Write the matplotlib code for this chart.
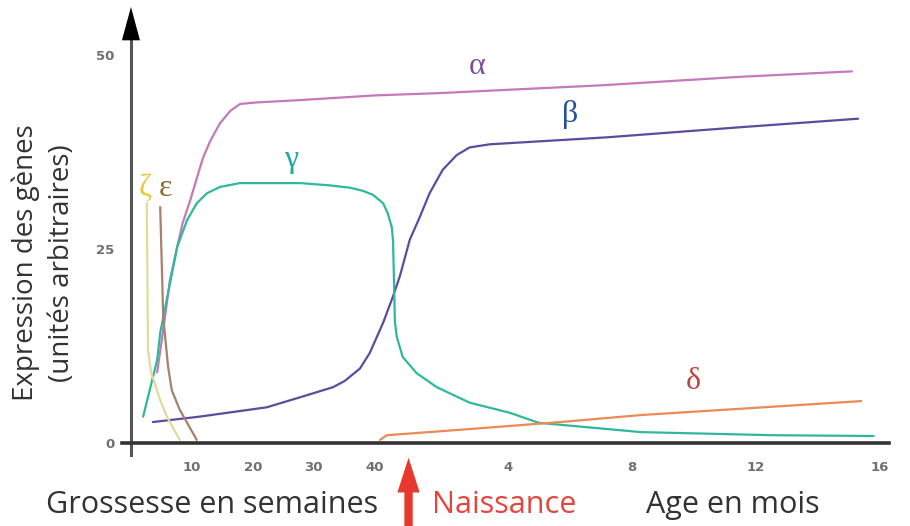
import matplotlib.pyplot as plt


def mois(m):
    # après la naissance l'axe passe en mois (environ 5,1 semaines d'axe par mois)
    return 41.5 + 5.09 * m


# courbes d'expression des gènes de globine
alpha_x = [4.3, 5.3, 6.4, 7.6, 8.5, 9.7, 10.8, 11.8, 13.0, 14.6, 16.3, 17.9, 20.7, 27.8, 40,
           mois(1.8), mois(7.0), mois(11.5), mois(15.1)]
alpha_y = [9.1, 14.6, 21.0, 25.3, 28.4, 31.2, 34.1, 36.7, 38.9, 41.2, 42.8, 43.7, 43.9, 44.2, 44.8,
           45.1, 46.1, 47.2, 47.9]

beta_x = [3.6, 11.3, 22.3, 27.8, 33.2, 35.1, 37.6, 39.2, 41.4,
          mois(0.29), mois(0.52), mois(0.84), mois(1.16), mois(1.48), mois(1.90),
          mois(2.35), mois(2.77), mois(3.42), mois(7.2), mois(11.5), mois(15.3)]
beta_y = [2.7, 3.4, 4.6, 5.9, 7.2, 8.0, 9.6, 11.6, 15.5,
          18.8, 21.5, 26.2, 29.1, 32.2, 35.2,
          37.1, 38.1, 38.5, 39.4, 40.7, 41.8]

gamma_x = [2.0, 4.3, 4.8, 7.6, 9.2, 10.8, 12.5, 14.6, 17.9, 27.8, 32.7, 36.0, 38.1, 39.7, 41.4,
           mois(0.13), mois(0.26), mois(0.30), mois(0.33), mois(0.36), mois(0.42), mois(0.61),
           mois(1.06), mois(1.71), mois(2.77), mois(4.06), mois(5.0), mois(8.3), mois(12.6),
           mois(15.8)]
gamma_y = [3.4, 10.7, 14.2, 25.3, 28.7, 30.9, 32.2, 33.0, 33.5, 33.5, 33.2, 32.9, 32.5, 32.0, 30.9,
           29.6, 27.8, 26.1, 21.0, 15.6, 13.7, 11.1,
           9.0, 7.2, 5.2, 3.9, 2.6, 1.4, 1.0,
           0.9]

delta_x = [40.9, mois(0.1), mois(2.45), mois(5.7), mois(8.3), mois(15.4)]
delta_y = [0.4, 1.0, 1.7, 2.7, 3.6, 5.4]

zeta_x = [2.6, 2.8, 3.3, 3.9, 4.8, 5.9, 8.0]
zeta_y = [30.9, 12.0, 9.1, 7.7, 5.5, 3.4, 0.4]

epsilon_x = [4.8, 5.3, 6.1, 6.7, 8.0, 10.8]
epsilon_y = [30.4, 16.2, 9.8, 6.8, 4.3, 0.4]

sem_ticks = [10, 20, 30, 40]
mois_ticks = [4, 8, 12, 16]
y_ticks = [0, 25, 50]

courbes = [
    (alpha_x, alpha_y, '#c47ab8'),
    (beta_x, beta_y, '#5f4b9e'),
    (gamma_x, gamma_y, '#2fb89c'),
    (delta_x, delta_y, '#ea8a55'),
    (zeta_x, zeta_y, '#dcdc9c'),
    (epsilon_x, epsilon_y, '#a8806e'),
]

# (texte, x, y, couleur)
etiquettes = [
    ('α', mois(3), 48.5, '#7a4fa3'),
    ('β', mois(6), 42.3, '#24509e'),
    ('γ', 26.3, 36.5, '#1ea9a3'),
    ('δ', mois(10), 7.9, '#c1463e'),
    ('ζ', 2.4, 32.8, '#ebc93a'),
    ('ε', 5.7, 32.8, '#8c6a2c'),
]

fig = plt.figure(figsize=(9.1, 5.26), dpi=100)
ax = fig.add_axes([0, 0, 1, 1])
ax.set_xlim(-21.5, 127.9)
ax.set_ylim(-10.7, 57.1)

for x, y, c in courbes:
    ax.plot(x, y, color=c, lw=1.6, solid_joinstyle='round', solid_capstyle='round', zorder=3)

for txt, x, y, c in etiquettes:
    ax.text(x, y, txt, color=c, fontsize=23, family='Liberation Serif',
            ha='center', va='center', zorder=4)

# axes fléchés
for side in ['top', 'right']:
    ax.spines[side].set_visible(False)
ax.spines['left'].set_position(('data', 0))
ax.spines['bottom'].set_position(('data', 0))
ax.spines['left'].set_bounds(-1.6, 52.5)
ax.spines['bottom'].set_bounds(-1.5, 124.5)
ax.spines['left'].set_color('#555555')
ax.spines['bottom'].set_color('#333333')
ax.spines['left'].set_linewidth(2.2)
ax.spines['bottom'].set_linewidth(2.6)

ax.annotate('', xy=(0, 56.2), xytext=(0, 51.5),
            arrowprops=dict(arrowstyle='-|>,head_length=2.4,head_width=0.65',
                            mutation_scale=10, color='black', lw=0, shrinkA=0, shrinkB=0))
ax.annotate('', xy=(128.5, 0), xytext=(123.5, 0),
            arrowprops=dict(arrowstyle='-|>,head_length=1.7,head_width=0.55',
                            mutation_scale=10, color='black', lw=0, shrinkA=0, shrinkB=0))

ax.set_xticks(sem_ticks + [mois(m) for m in mois_ticks],
              [str(t) for t in sem_ticks] + [str(m) for m in mois_ticks])
ax.set_yticks(y_ticks, [str(v) for v in y_ticks])
ax.tick_params(axis='x', length=0, pad=13, labelsize=9.5, labelcolor='#707070')
ax.tick_params(axis='y', length=0, pad=12, labelsize=9.5, labelcolor='#707070')
for lab in ax.get_xticklabels() + ax.get_yticklabels():
    lab.set_fontweight('bold')

# titres des axes
ax.text(-14.3, 23.2, 'Expression des gènes\n(unités arbitraires)', rotation=90,
        ha='center', va='center', multialignment='center', linespacing=1.4,
        fontsize=20, family='Open Sans', color='#333333')
ax.text(13.3, -8.0, 'Grossesse en semaines', ha='center', va='center',
        fontsize=22, family='Open Sans', color='#333333')
ax.text(mois(11.26), -8.0, 'Age en mois', ha='center', va='center',
        fontsize=22, family='Open Sans', color='#333333')
ax.text(mois(3.9), -8.0, 'Naissance', ha='center', va='center',
        fontsize=22, family='Open Sans', color='#e5463b')

# flèche de la naissance
ax.annotate('', xy=(mois(0.8), -1.9), xytext=(mois(0.8), -11),
            arrowprops=dict(arrowstyle='simple,head_length=2.5,head_width=1.6,tail_width=0.6',
                            mutation_scale=10, color='#e8382e', lw=0, shrinkA=0, shrinkB=0))

fig.savefig('out.png', dpi=100)
